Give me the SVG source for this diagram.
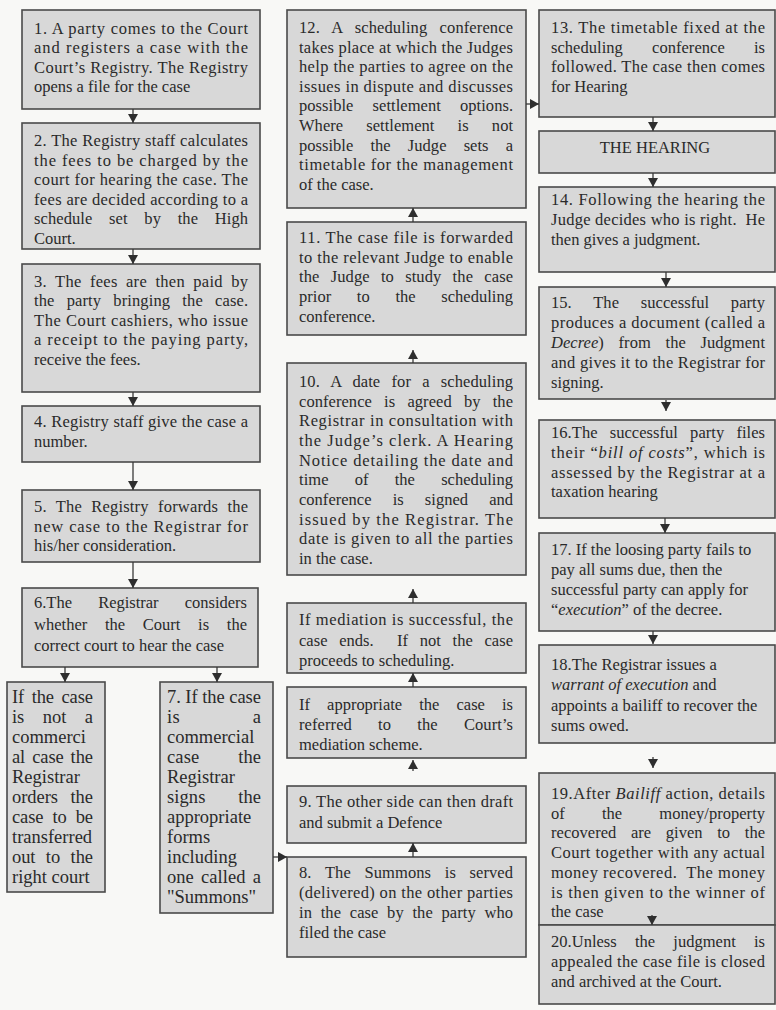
<svg xmlns="http://www.w3.org/2000/svg" width="776" height="1010" viewBox="0 0 776 1010">
<defs>
<style>
.bg{fill:#f8f8f6}
.box{fill:#d8d8d8;stroke:#4a4a4a;stroke-width:1.6}
text{font-family:"Liberation Serif","Times New Roman",serif;fill:#2a2a2a}
.t{font-size:16.5px}
.n{font-size:18.5px}
.c{text-anchor:middle}
.pre{white-space:pre}
.con path{fill:none;stroke:#3a3a3a;stroke-width:1.3}
</style>
<marker id="ah" viewBox="0 0 9 10" refX="9" refY="5" markerWidth="9" markerHeight="10" markerUnits="userSpaceOnUse" orient="auto">
<path d="M0,0 L9,5 L0,10 z" fill="#2e2e2e"/>
</marker>
</defs>
<rect class="bg" x="0" y="0" width="776" height="1010"/>

<g id="n1">
<rect class="box" x="22" y="10" width="238" height="99"/>
<text class="t" x="34" y="34" textLength="214" lengthAdjust="spacing">1. A party comes to the Court</text>
<text class="t" x="34" y="53.3" textLength="214" lengthAdjust="spacing">and registers a case with the</text>
<text class="t" x="34" y="72.6" textLength="214" lengthAdjust="spacing">Court’s Registry. The Registry</text>
<text class="t" x="34" y="92">opens a file for the case</text>
</g>

<g id="n2">
<rect class="box" x="22" y="123" width="238" height="126"/>
<text class="t" x="34" y="146" textLength="214" lengthAdjust="spacing">2. The Registry staff calculates</text>
<text class="t" x="34" y="165.6" textLength="214" lengthAdjust="spacing">the fees to be charged by the</text>
<text class="t" x="34" y="185.2" textLength="214" lengthAdjust="spacing">court for hearing the case. The</text>
<text class="t" x="34" y="204.8" textLength="214" lengthAdjust="spacing">fees are decided according to a</text>
<text class="t" x="34" y="224.4" textLength="214" lengthAdjust="spacing" style="word-spacing:12.5px">schedule set by the High</text>
<text class="t" x="34" y="244">Court.</text>
</g>

<g id="n3">
<rect class="box" x="22" y="264" width="238" height="128"/>
<text class="t" x="34" y="287" textLength="214" lengthAdjust="spacing" style="word-spacing:4px">3. The fees are then paid by</text>
<text class="t" x="34" y="306.4" textLength="214" lengthAdjust="spacing" style="word-spacing:8px">the party bringing the case.</text>
<text class="t" x="34" y="325.8" textLength="214" lengthAdjust="spacing">The Court cashiers, who issue</text>
<text class="t" x="34" y="345.2" textLength="214" lengthAdjust="spacing">a receipt to the paying party,</text>
<text class="t" x="34" y="364.6">receive the fees.</text>
</g>

<g id="n4">
<rect class="box" x="22" y="406" width="238" height="56"/>
<text class="t" x="34" y="427" textLength="214" lengthAdjust="spacing">4. Registry staff give the case a</text>
<text class="t" x="34" y="447">number.</text>
</g>

<g id="n5">
<rect class="box" x="22" y="490" width="238" height="72"/>
<text class="t" x="34" y="512" textLength="214" lengthAdjust="spacing" style="word-spacing:5px">5. The Registry forwards the</text>
<text class="t" x="34" y="531.5" textLength="214" lengthAdjust="spacing">new case to the Registrar for</text>
<text class="t" x="34" y="551">his/her consideration.</text>
</g>

<g id="n6">
<rect class="box" x="22" y="588" width="236" height="79"/>
<text class="t" x="34" y="608" textLength="213" lengthAdjust="spacing" style="word-spacing:22px">6.The Registrar considers</text>
<text class="t" x="34" y="629.5" textLength="213" lengthAdjust="spacing" style="word-spacing:13.5px">whether the Court is the</text>
<text class="t" x="34" y="651">correct court to hear the case</text>
</g>

<g id="nNotCommercial">
<rect class="box" x="7" y="682" width="98" height="210"/>
<text class="n" x="12" y="703" textLength="81" lengthAdjust="spacing" style="word-spacing:3px">If the case</text>
<text class="n" x="12" y="723" textLength="81" lengthAdjust="spacing" style="word-spacing:14px">is not a</text>
<text class="n" x="12" y="743">commerci</text>
<text class="n" x="12" y="763" textLength="81" lengthAdjust="spacing" style="word-spacing:2.5px">al case the</text>
<text class="n" x="12" y="783">Registrar</text>
<text class="n" x="12" y="803" textLength="81" lengthAdjust="spacing" style="word-spacing:8px">orders the</text>
<text class="n" x="12" y="823" textLength="81" lengthAdjust="spacing" style="word-spacing:4.5px">case to be</text>
<text class="n" x="12" y="843">transferred</text>
<text class="n" x="12" y="863" textLength="81" lengthAdjust="spacing" style="word-spacing:6px">out to the</text>
<text class="n" x="12" y="883">right court</text>
</g>

<g id="n7">
<rect class="box" x="160" y="682" width="113" height="231"/>
<text class="n" x="167" y="703" textLength="94" lengthAdjust="spacing">7. If the case</text>
<text class="n" x="167" y="723" textLength="94" lengthAdjust="spacing" style="word-spacing:68px">is a</text>
<text class="n" x="167" y="743">commercial</text>
<text class="n" x="167" y="763" textLength="94" lengthAdjust="spacing" style="word-spacing:34px">case the</text>
<text class="n" x="167" y="783">Registrar</text>
<text class="n" x="167" y="803" textLength="94" lengthAdjust="spacing" style="word-spacing:28px">signs the</text>
<text class="n" x="167" y="823">appropriate</text>
<text class="n" x="167" y="843">forms</text>
<text class="n" x="167" y="863">including</text>
<text class="n" x="167" y="883" textLength="94" lengthAdjust="spacing" style="word-spacing:2.5px">one called a</text>
<text class="n" x="167" y="903">"Summons"</text>
</g>

<g id="n12">
<rect class="box" x="287" y="10" width="239" height="198"/>
<text class="t" x="299" y="33" textLength="214" lengthAdjust="spacing" style="word-spacing:8px">12. A scheduling conference</text>
<text class="t" x="299" y="52.6" textLength="214" lengthAdjust="spacing">takes place at which the Judges</text>
<text class="t" x="299" y="72.2" textLength="214" lengthAdjust="spacing">help the parties to agree on the</text>
<text class="t" x="299" y="91.8" textLength="214" lengthAdjust="spacing">issues in dispute and discusses</text>
<text class="t" x="299" y="111.4" textLength="214" lengthAdjust="spacing" style="word-spacing:15px">possible settlement options.</text>
<text class="t" x="299" y="131" textLength="214" lengthAdjust="spacing" style="word-spacing:19px">Where settlement is not</text>
<text class="t" x="299" y="150.6" textLength="214" lengthAdjust="spacing" style="word-spacing:13px">possible the Judge sets a</text>
<text class="t" x="299" y="170.2" textLength="214" lengthAdjust="spacing">timetable for the management</text>
<text class="t" x="299" y="189.8">of the case.</text>
</g>

<g id="n11">
<rect class="box" x="287" y="222" width="239" height="113"/>
<text class="t" x="299" y="243" textLength="214" lengthAdjust="spacing">11. The case file is forwarded</text>
<text class="t" x="299" y="262.7" textLength="214" lengthAdjust="spacing">to the relevant Judge to enable</text>
<text class="t" x="299" y="282.4" textLength="214" lengthAdjust="spacing" style="word-spacing:7px">the Judge to study the case</text>
<text class="t" x="299" y="302.1" textLength="214" lengthAdjust="spacing" style="word-spacing:21.5px">prior to the scheduling</text>
<text class="t" x="299" y="321.8">conference.</text>
</g>

<g id="n10">
<rect class="box" x="287" y="363" width="239" height="212"/>
<text class="t" x="299" y="387" textLength="214" lengthAdjust="spacing" style="word-spacing:7px">10. A date for a scheduling</text>
<text class="t" x="299" y="406.7" textLength="214" lengthAdjust="spacing" style="word-spacing:8px">conference is agreed by the</text>
<text class="t" x="299" y="426.3" textLength="214" lengthAdjust="spacing">Registrar in consultation with</text>
<text class="t" x="299" y="446" textLength="214" lengthAdjust="spacing">the Judge’s clerk. A Hearing</text>
<text class="t" x="299" y="465.7" textLength="214" lengthAdjust="spacing">Notice detailing the date and</text>
<text class="t" x="299" y="485.3" textLength="214" lengthAdjust="spacing" style="word-spacing:22px">time of the scheduling</text>
<text class="t" x="299" y="505" textLength="214" lengthAdjust="spacing" style="word-spacing:17px">conference is signed and</text>
<text class="t" x="299" y="524.7" textLength="214" lengthAdjust="spacing">issued by the Registrar. The</text>
<text class="t" x="299" y="544.3" textLength="214" lengthAdjust="spacing">date is given to all the parties</text>
<text class="t" x="299" y="564">in the case.</text>
</g>

<g id="nMediationResult">
<rect class="box" x="287" y="603" width="239" height="70"/>
<text class="t" x="299" y="625" textLength="214" lengthAdjust="spacing">If mediation is successful, the</text>
<text class="t pre" x="299" y="645.5" textLength="214" lengthAdjust="spacing" style="word-spacing:7.5px">case ends.  If not the case</text>
<text class="t" x="299" y="666">proceeds to scheduling.</text>
</g>

<g id="nMediationReferral">
<rect class="box" x="287" y="687" width="239" height="71"/>
<text class="t" x="299" y="710" textLength="214" lengthAdjust="spacing" style="word-spacing:13px">If appropriate the case is</text>
<text class="t" x="299" y="730" textLength="214" lengthAdjust="spacing" style="word-spacing:22px">referred to the Court’s</text>
<text class="t" x="299" y="750">mediation scheme.</text>
</g>

<g id="n9">
<rect class="box" x="287" y="786" width="239" height="57"/>
<text class="t" x="299" y="807" textLength="214" lengthAdjust="spacing">9. The other side can then draft</text>
<text class="t" x="299" y="828">and submit a Defence</text>
</g>

<g id="n8">
<rect class="box" x="287" y="857" width="239" height="100"/>
<text class="t" x="299" y="878" textLength="214" lengthAdjust="spacing" style="word-spacing:9.5px">8. The Summons is served</text>
<text class="t" x="299" y="898" textLength="214" lengthAdjust="spacing">(delivered) on the other parties</text>
<text class="t" x="299" y="918" textLength="214" lengthAdjust="spacing" style="word-spacing:4.5px">in the case by the party who</text>
<text class="t" x="299" y="938">filed the case</text>
</g>

<g id="n13">
<rect class="box" x="539" y="10" width="236" height="107"/>
<text class="t" x="551" y="33" textLength="214" lengthAdjust="spacing">13. The timetable fixed at the</text>
<text class="t" x="551" y="52.7" textLength="214" lengthAdjust="spacing" style="word-spacing:25px">scheduling conference is</text>
<text class="t" x="551" y="72.4" textLength="214" lengthAdjust="spacing">followed. The case then comes</text>
<text class="t" x="551" y="92.1">for Hearing</text>
</g>

<g id="nHearing">
<rect class="box" x="539" y="131" width="236" height="42"/>
<text class="t c" x="655" y="153">THE HEARING</text>
</g>

<g id="n14">
<rect class="box" x="539" y="187" width="236" height="85"/>
<text class="t" x="551" y="205" textLength="214" lengthAdjust="spacing">14. Following the hearing the</text>
<text class="t pre" x="551" y="225" textLength="214" lengthAdjust="spacing">Judge decides who is right.  He</text>
<text class="t" x="551" y="245">then gives a judgment.</text>
</g>

<g id="n15">
<rect class="box" x="539" y="287" width="236" height="112"/>
<text class="t" x="551" y="308" textLength="214" lengthAdjust="spacing" style="word-spacing:17.5px">15. The successful party</text>
<text class="t" x="551" y="328" textLength="214" lengthAdjust="spacing">produces a document (called a</text>
<text class="t" x="551" y="348" textLength="214" lengthAdjust="spacing" style="word-spacing:10.5px"><tspan font-style="italic">Decree</tspan>) from the Judgment</text>
<text class="t" x="551" y="368" textLength="214" lengthAdjust="spacing">and gives it to the Registrar for</text>
<text class="t" x="551" y="388">signing.</text>
</g>

<g id="n16">
<rect class="box" x="539" y="420" width="236" height="98"/>
<text class="t" x="551" y="438" textLength="214" lengthAdjust="spacing" style="word-spacing:8px">16.The successful party files</text>
<text class="t" x="551" y="457.8" textLength="214" lengthAdjust="spacing">their “<tspan font-style="italic">bill of costs</tspan>”, which is</text>
<text class="t" x="551" y="477.6" textLength="214" lengthAdjust="spacing">assessed by the Registrar at a</text>
<text class="t" x="551" y="497.4">taxation hearing</text>
</g>

<g id="n17">
<rect class="box" x="539" y="533" width="236" height="98"/>
<text class="t" x="551" y="555">17. If the loosing party fails to</text>
<text class="t" x="551" y="575">pay all sums due, then the</text>
<text class="t" x="551" y="595">successful party can apply for</text>
<text class="t" x="551" y="615">“<tspan font-style="italic">execution</tspan>” of the decree.</text>
</g>

<g id="n18">
<rect class="box" x="539" y="645" width="236" height="98"/>
<text class="t" x="551" y="670">18.The Registrar issues a</text>
<text class="t" x="551" y="690.3"><tspan font-style="italic">warrant of execution</tspan> and</text>
<text class="t" x="551" y="710.6">appoints a bailiff to recover the</text>
<text class="t" x="551" y="731">sums owed.</text>
</g>

<g id="n19">
<rect class="box" x="539" y="773" width="236" height="152"/>
<text class="t" x="551" y="799" textLength="214" lengthAdjust="spacing">19.After <tspan font-style="italic">Bailiff</tspan> action, details</text>
<text class="t" x="551" y="818.7" textLength="214" lengthAdjust="spacing" style="word-spacing:33px">of the money/property</text>
<text class="t" x="551" y="838.4" textLength="214" lengthAdjust="spacing" style="word-spacing:10.5px">recovered are given to the</text>
<text class="t" x="551" y="858.1" textLength="214" lengthAdjust="spacing">Court together with any actual</text>
<text class="t pre" x="551" y="877.8" textLength="214" lengthAdjust="spacing">money recovered.  The money</text>
<text class="t" x="551" y="897.5" textLength="214" lengthAdjust="spacing">is then given to the winner of</text>
<text class="t" x="551" y="917.2">the case</text>
</g>

<g id="n20">
<rect class="box" x="539" y="925" width="236" height="79"/>
<text class="t" x="551" y="947" textLength="214" lengthAdjust="spacing" style="word-spacing:14px">20.Unless the judgment is</text>
<text class="t" x="551" y="967" textLength="214" lengthAdjust="spacing">appealed the case file is closed</text>
<text class="t" x="551" y="987">and archived at the Court.</text>
</g>

<g id="connectors" class="con">
<path d="M133,109 V123" marker-end="url(#ah)"/>
<path d="M133,249 V264" marker-end="url(#ah)"/>
<path d="M133,392 V406" marker-end="url(#ah)"/>
<path d="M133,462 V490" marker-end="url(#ah)"/>
<path d="M133,562 V588" marker-end="url(#ah)"/>
<path d="M65,667 V682" marker-end="url(#ah)"/>
<path d="M217,667 V682" marker-end="url(#ah)"/>
<path d="M273,857 H287" marker-end="url(#ah)"/>
<path d="M413,857 V843" marker-end="url(#ah)"/>
<path d="M413,771 V760" marker-end="url(#ah)"/>
<path d="M413,687 V673" marker-end="url(#ah)"/>
<path d="M413,603 V589" marker-end="url(#ah)"/>
<path d="M413,363 V350" marker-end="url(#ah)"/>
<path d="M413,222 V208" marker-end="url(#ah)"/>
<path d="M526,104 H539" marker-end="url(#ah)"/>
<path d="M653,117 V131" marker-end="url(#ah)"/>
<path d="M653,173 V187" marker-end="url(#ah)"/>
<path d="M666,272 V287" marker-end="url(#ah)"/>
<path d="M666,400 V411" marker-end="url(#ah)"/>
<path d="M665,518 V533" marker-end="url(#ah)"/>
<path d="M653,631 V644" marker-end="url(#ah)"/>
<path d="M653,757 V768" marker-end="url(#ah)"/>
<path d="M652,915 V925" marker-end="url(#ah)"/>
</g>
</svg>
